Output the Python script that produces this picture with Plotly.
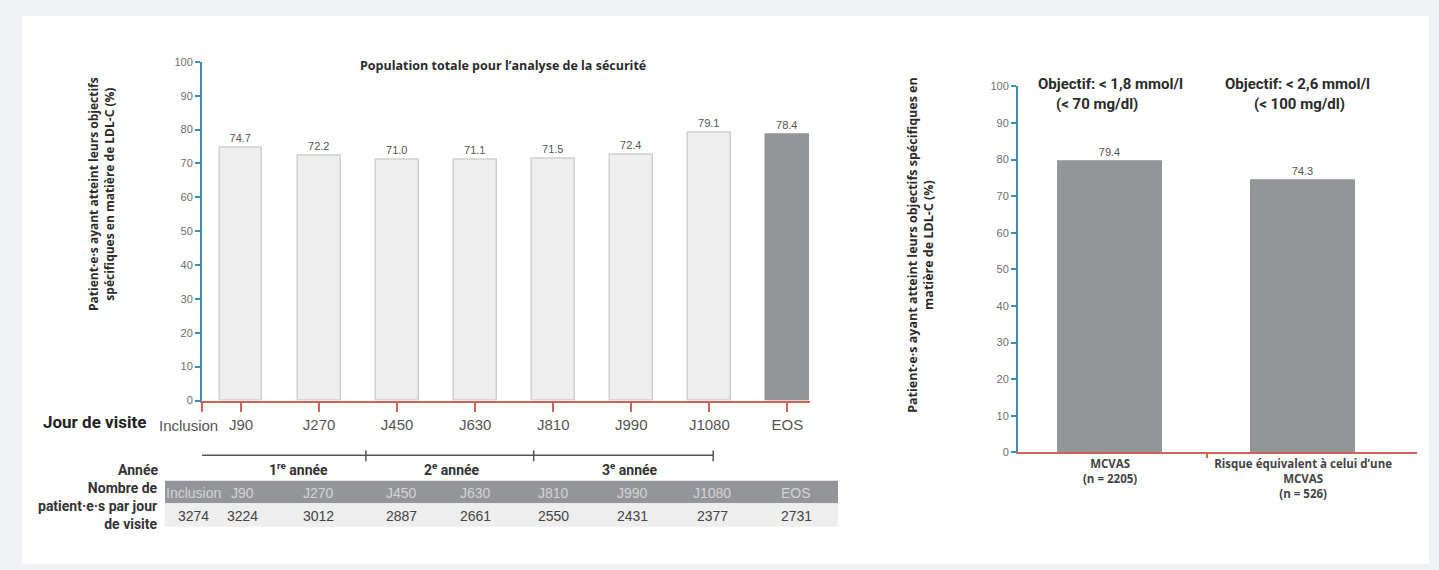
import plotly.graph_objects as go

W, H = 1439, 570

# ---------------- data ----------------
visit_labels = ["Inclusion", "J90", "J270", "J450", "J630", "J810", "J990", "J1080", "EOS"]
bar_categories = ["J90", "J270", "J450", "J630", "J810", "J990", "J1080", "EOS"]
bar_values = [74.7, 72.2, 71.0, 71.1, 71.5, 72.4, 79.1, 78.4]
patient_counts = [3274, 3224, 3012, 2887, 2661, 2550, 2431, 2377, 2731]
year_labels = ["1<sup>re</sup> année", "2<sup>e</sup> année", "3<sup>e</sup> année"]

right_categories = ["MCVAS<br>(n = 2205)", "Risque équivalent à celui d’une<br>MCVAS<br>(n = 526)"]
right_values = [79.4, 74.3]
right_headers = [("Objectif: < 1,8 mmol/l", "(< 70 mg/dl)"), ("Objectif: < 2,6 mmol/l", "(< 100 mg/dl)")]

# ---------------- styles ----------------
RED = "#d0625a"
BLUE = "#3f8db3"
DARK = "#939598"
LIGHT = "#eeeeee"
TXT = "#6d6e71"
BOLDTXT = "#2b2b2b"
SANS = "Liberation Sans, Arial, sans-serif"
WIDEB = "Open Sans, sans-serif"
NARB = "Roboto, sans-serif"


def py(px):
    return 1 - px / H


def pxx(px):
    return px / W


fig = go.Figure()

bar_x = list(range(1, len(bar_categories) + 1))
fill = [LIGHT] * (len(bar_values) - 1) + [DARK]
edge = ["#cfcfcf"] * (len(bar_values) - 1) + [DARK]
fig.add_trace(go.Bar(
    x=bar_x, y=bar_values, width=0.55,
    marker=dict(color=fill, line=dict(color=edge, width=1.5)),
    text=[f"{v:.1f}" for v in bar_values], textposition="outside",
    textfont=dict(family=SANS, size=11, color="#555555"),
    cliponaxis=False, xaxis="x", yaxis="y", showlegend=False, hoverinfo="skip",
))

fig.add_trace(go.Bar(
    x=list(range(len(right_values))), y=right_values, width=0.54,
    marker=dict(color=DARK, line=dict(color=DARK, width=1)),
    text=[f"{v:.1f}" for v in right_values], textposition="outside",
    textfont=dict(family=SANS, size=11, color="#555555"),
    cliponaxis=False, xaxis="x2", yaxis="y2", showlegend=False, hoverinfo="skip",
))

tick_pos = [0.5] + bar_x
tick_text = [""] + visit_labels[1:]

fig.update_layout(
    width=W, height=H,
    margin=dict(l=0, r=0, t=0, b=0),
    paper_bgcolor="#eff1f4",
    plot_bgcolor="rgba(0,0,0,0)",
    bargap=0,
    xaxis=dict(
        domain=[pxx(202), pxx(810)], range=[0.5, 8.29], anchor="y",
        tickmode="array", tickvals=tick_pos, ticktext=tick_text, tickangle=0,
        ticks="outside", ticklen=10, tickwidth=2, tickcolor=RED,
        showline=True, linecolor=RED, linewidth=1.5,
        showgrid=False, zeroline=False,
        tickfont=dict(family=SANS, size=15, color="#555555"),
    ),
    yaxis=dict(
        domain=[py(403), py(57)], range=[0, 100], anchor="x",
        tickmode="linear", tick0=0, dtick=10,
        ticks="outside", ticklen=5, tickwidth=1.5, tickcolor=BLUE,
        showline=True, linecolor=BLUE, linewidth=2,
        showgrid=False, zeroline=False,
        tickfont=dict(family=SANS, size=11, color=TXT),
    ),
    xaxis2=dict(
        domain=[pxx(1018), pxx(1417)], range=[-0.477, 1.59], anchor="y2",
        tickmode="array", tickvals=[0, 1], ticktext=right_categories, tickangle=0,
        ticks="",
        minor=dict(tickmode="array", tickvals=[0.5], ticks="outside", ticklen=4, tickwidth=1.5, tickcolor=RED),
        showline=True, linecolor=RED, linewidth=1.5,
        showgrid=False, zeroline=False,
        tickfont=dict(family=WIDEB, size=11.5, color="#444444", weight="bold"),
    ),
    yaxis2=dict(
        domain=[py(456), py(82)], range=[0, 100], anchor="x2",
        tickmode="linear", tick0=0, dtick=10,
        ticks="outside", ticklen=5, tickwidth=1.5, tickcolor=BLUE,
        showline=True, linecolor=BLUE, linewidth=2,
        showgrid=False, zeroline=False,
        tickfont=dict(family=SANS, size=11, color=TXT),
    ),
)

shapes = []
annotations = []

# white card
shapes.append(dict(type="rect", xref="paper", yref="paper", x0=pxx(22), x1=pxx(1429), y0=0, y1=py(10),
                   fillcolor="white", line=dict(width=0), layer="below"))

# title left
annotations.append(dict(xref="paper", yref="paper", x=pxx(503), y=py(61), text="<b>Population totale pour l’analyse de la sécurité</b>",
                        showarrow=False, font=dict(family=WIDEB, size=12.5, color=BOLDTXT), xanchor="center", yanchor="middle"))

# y titles
annotations.append(dict(xref="paper", yref="paper", x=pxx(102), y=py(192), textangle=-90,
                        text="<b>Patient·e·s ayant atteint leurs objectifs<br>spécifiques en matière de LDL-C (%)</b>",
                        showarrow=False, font=dict(family=WIDEB, size=12, color=BOLDTXT), xanchor="center", yanchor="middle"))
annotations.append(dict(xref="paper", yref="paper", x=pxx(921), y=py(244), textangle=-90,
                        text="<b>Patient·e·s ayant atteint leurs objectifs spécifiques en<br>matière de LDL-C (%)</b>",
                        showarrow=False, font=dict(family=WIDEB, size=12.5, color=BOLDTXT), xanchor="center", yanchor="middle"))

# right headers
hdr_x = [(0.0, -0.067), (0.97, 0.98)]
for (l1, l2), (xa, xb) in zip(right_headers, hdr_x):
    annotations.append(dict(xref="x2", yref="paper", x=xa, y=py(80), text=f"<b>{l1}</b>", showarrow=False,
                            font=dict(family=NARB, size=15, color=BOLDTXT), xanchor="center", yanchor="middle"))
    annotations.append(dict(xref="x2", yref="paper", x=xb, y=py(100), text=f"<b>{l2}</b>", showarrow=False,
                            font=dict(family=NARB, size=15, color=BOLDTXT), xanchor="center", yanchor="middle"))

# "Inclusion" tick label (placed left of its tick, as in the reference)
annotations.append(dict(xref="paper", yref="paper", x=pxx(220), y=py(429), text=visit_labels[0], showarrow=False,
                        font=dict(family=SANS, size=15, color="#555555"), xanchor="right", yanchor="middle"))

# left side labels
annotations.append(dict(xref="paper", yref="paper", x=pxx(148), y=py(425), text="<b>Jour de visite</b>", showarrow=False,
                        font=dict(family=NARB, size=17, color="#222222"), xanchor="right", yanchor="middle"))
annotations.append(dict(xref="paper", yref="paper", x=pxx(160), y=py(474), text="<b>Année</b>", showarrow=False,
                        font=dict(family=NARB, size=14, color="#333333"), xanchor="right", yanchor="middle"))
annotations.append(dict(xref="paper", yref="paper", x=pxx(160), y=py(511),
                        text="<b>Nombre de<br>patient·e·s par jour<br>de visite</b>", showarrow=False, align="right",
                        font=dict(family=NARB, size=14, color="#333333"), xanchor="right", yanchor="middle"))

# year bracket
bracket = [0.47, 2.6, 4.75, 7.05]
shapes.append(dict(type="line", xref="x", yref="paper", x0=bracket[0], x1=bracket[-1], y0=py(459), y1=py(459),
                   line=dict(color="#555555", width=1.5)))
for bx in bracket:
    shapes.append(dict(type="line", xref="x", yref="paper", x0=bx, x1=bx, y0=py(454), y1=py(465),
                       line=dict(color="#555555", width=1.5)))
year_x = [1.73, 3.70, 5.98]
for lab, yx in zip(year_labels, year_x):
    annotations.append(dict(xref="x", yref="paper", x=yx, y=py(473), text=f"<b>{lab}</b>", showarrow=False,
                            font=dict(family=NARB, size=14, color="#333333"), xanchor="center", yanchor="middle"))

# table bands
shapes.append(dict(type="rect", xref="paper", yref="paper", x0=pxx(165), x1=pxx(838), y0=py(508), y1=py(485),
                   fillcolor=DARK, line=dict(width=0)))
shapes.append(dict(type="rect", xref="paper", yref="paper", x0=pxx(165), x1=pxx(838), y0=py(532), y1=py(508),
                   fillcolor="#eeeeee", line=dict(width=0)))
col_px = [193, 242, 318, 402, 475, 553, 632, 712, 796]
for cx, lab, n in zip(col_px, visit_labels, patient_counts):
    annotations.append(dict(xref="paper", yref="paper", x=pxx(cx), y=py(497), text=lab, showarrow=False,
                            font=dict(family=SANS, size=14, color="#d4d4d6"), xanchor="center", yanchor="middle"))
    annotations.append(dict(xref="paper", yref="paper", x=pxx(cx), y=py(521), text=str(n), showarrow=False,
                            font=dict(family=SANS, size=14, color="#444444"), xanchor="center", yanchor="middle"))

fig.update_layout(shapes=shapes, annotations=annotations)

fig.write_html("out.html")
